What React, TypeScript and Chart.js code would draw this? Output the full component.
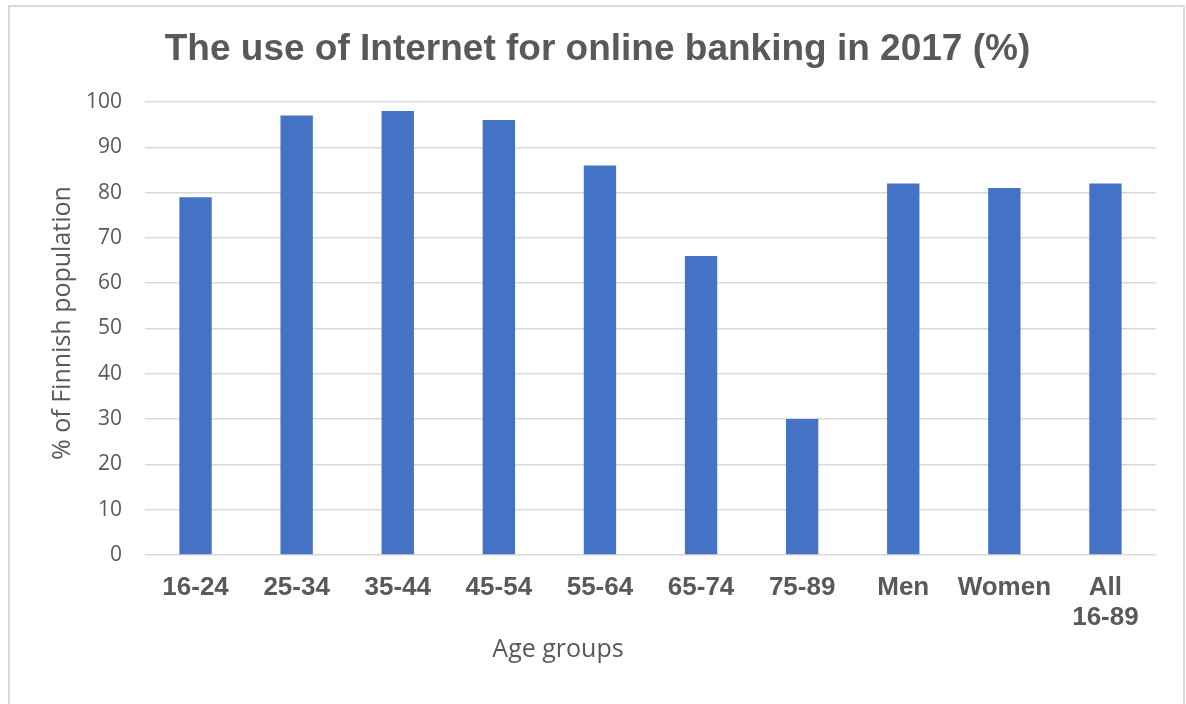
import React, { useEffect, useRef } from "react";
import { Chart, registerables } from "chart.js";

Chart.register(...registerables);

const categories: (string | string[])[] = ["16-24", "25-34", "35-44", "45-54", "55-64", "65-74", "75-89", "Men", "Women", ["All", "16-89"]];
const values: number[] = [79, 97, 98, 96, 86, 66, 30, 82, 81, 82];
const titleText = "The use of Internet for online banking in 2017 (%)";
const yTitle = "% of Finnish population";
const xTitle = "Age groups";

const axisTitlesPlugin = {
  id: "axisTitleText",
  afterDraw(chart: any) {
    const ctx = chart.ctx;
    ctx.save();
    ctx.fillStyle = "#595959";
    ctx.font = "25px 'Open Sans', sans-serif";
    ctx.textAlign = "center";
    ctx.textBaseline = "middle";
    ctx.fillText(xTitle, 558, 650);
    ctx.translate(63, 323);
    ctx.rotate(-Math.PI / 2);
    ctx.fillText(yTitle, 0, 0);
    ctx.restore();
  },
};

export default function App() {
  const ref = useRef<HTMLCanvasElement | null>(null);
  useEffect(() => {
    if (!ref.current) return;
    const chart = new Chart(ref.current, {
      type: "bar",
      data: {
        labels: categories,
        datasets: [
          {
            data: values,
            backgroundColor: "#4472C4",
            borderWidth: 0,
            categoryPercentage: 1,
            barPercentage: 0.32,
          },
        ],
      },
      plugins: [axisTitlesPlugin],
      options: {
        responsive: false,
        animation: false,
        devicePixelRatio: 1,
        layout: { padding: { left: 39, right: 30, top: 28, bottom: 30 } },
        plugins: {
          legend: { display: false },
          tooltip: { enabled: false },
          title: {
            display: true,
            text: titleText,
            color: "#595959",
            font: { family: "'Liberation Sans', Arial, sans-serif", size: 37, weight: "bold", lineHeight: 1.2 },
            padding: { top: 0, bottom: 29.6 },
          },
        },
        scales: {
          x: {
            grid: { display: false, drawTicks: false },
            border: { display: false },
            ticks: {
              color: "#595959",
              font: { family: "'Liberation Sans', Arial, sans-serif", size: 26, weight: "bold", lineHeight: 1.15 },
              padding: 18,
              maxRotation: 0,
              autoSkip: false,
            },
            afterFit: (scale: any) => {
              scale.height = 704 - 555 - 30;
            },
          },
          y: {
            min: 0,
            max: 100,
            ticks: {
              stepSize: 10,
              color: "#595959",
              font: { family: "'Open Sans', sans-serif", size: 21 },
              padding: 23,
            },
            grid: { color: "#d9d9d9", lineWidth: 1.5, drawTicks: false },
            border: { display: false },
            afterFit: (scale: any) => {
              scale.width = 145 - 39;
            },
          },
        },
      },
    });
    return () => chart.destroy();
  }, []);
  return (
    <div style={{ position: "fixed", left: 0, top: 0, width: 1186, height: 704, background: "#fff", overflow: "hidden" }}>
      <div
        style={{
          position: "absolute",
          left: 8,
          top: 5,
          width: 1177,
          height: 760,
          border: "2px solid #d9d9d9",
          boxSizing: "border-box",
        }}
      />
      <canvas ref={ref} width={1186} height={704} style={{ position: "absolute", left: 0, top: 0 }} />
    </div>
  );
}
